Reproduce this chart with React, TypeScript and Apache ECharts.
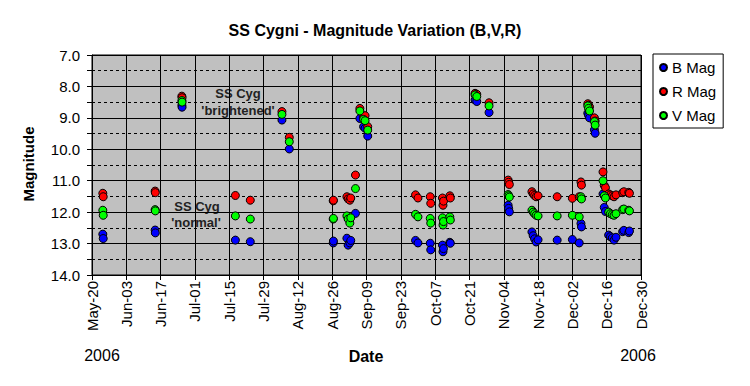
import React, { useEffect, useRef } from "react";
import * as echarts from "echarts";

const titleText = "SS Cygni - Magnitude Variation (B,V,R)";
const seriesNames = ["B Mag", "R Mag", "V Mag"];
const seriesColors = ["#0000ff", "#ff0000", "#00ff00"];
const startDate = "2006-05-20";
const endDate = "2006-12-30";
const tickDays = 14;
const yTicks = [7, 8, 9, 10, 11, 12, 13, 14];
const monthNames = ["Jan", "Feb", "Mar", "Apr", "May", "Jun", "Jul", "Aug", "Sep", "Oct", "Nov", "Dec"];

const obsTimes = [
  "2006-05-24T10", "2006-05-24T14", "2006-06-14T18", "2006-06-14T20", "2006-06-25T16", "2006-06-25T18",
  "2006-07-17T12", "2006-07-23T14", "2006-08-05T12", "2006-08-08T12", "2006-08-26T10", "2006-08-26T12",
  "2006-09-01T00", "2006-09-01T12", "2006-09-02T05", "2006-09-02T14", "2006-09-04T12", "2006-09-06T07",
  "2006-09-07T19", "2006-09-08T10", "2006-09-09T12", "2006-09-29T00", "2006-09-30T00", "2006-10-05T00",
  "2006-10-05T05", "2006-10-10T00", "2006-10-10T05", "2006-10-10T10", "2006-10-13T00", "2006-10-13T05",
  "2006-10-23T07", "2006-10-24T00", "2006-10-29T00", "2006-11-05T19", "2006-11-06T00", "2006-11-06T07",
  "2006-11-15T12", "2006-11-16T00", "2006-11-16T14", "2006-11-17T05", "2006-11-18T00", "2006-11-25T19",
  "2006-12-02T00", "2006-12-04T19", "2006-12-05T12", "2006-12-05T17", "2006-12-08T07", "2006-12-08T14",
  "2006-12-09T00", "2006-12-11T00", "2006-12-11T07", "2006-12-14T12", "2006-12-15T00", "2006-12-15T12",
  "2006-12-16T19", "2006-12-17T12", "2006-12-18T07", "2006-12-19T00", "2006-12-19T19", "2006-12-22T12",
  "2006-12-23T00", "2006-12-25T00", "2006-12-25T07",
];

const bMag = [
  12.70, 12.84, 12.57, 12.66, 8.60, 8.66,
  12.89, 12.94, 9.07, 9.99, 12.98, 12.92,
  12.83, 13.05, 12.98, 12.90, 12.04, 9.02,
  9.28, 9.33, 9.58, 12.90, 12.98, 12.99,
  13.20, 13.05, 13.26, 13.16, 12.96, 12.99,
  8.43, 8.48, 8.83, 11.78, 11.88, 11.99,
  12.63, 12.75, 12.85, 12.95, 12.88, 12.89,
  12.87, 12.98, 12.36, 12.47, 8.85, 8.92,
  9.00, 9.38, 9.49, 11.42, 11.85, 11.98,
  12.73, 12.78, 12.82, 12.89, 12.80, 12.62,
  12.58, 12.65, 12.60,
];

const rMag = [
  11.40, 11.51, 11.33, 11.38, 8.31, 8.36,
  11.47, 11.62, 8.80, 9.62, 11.64, 11.62,
  11.51, 11.58, 11.62, 11.55, 10.82, 8.70,
  8.98, 8.93, 9.28, 11.45, 11.55, 11.51,
  11.72, 11.55, 11.78, 11.65, 11.48, 11.55,
  8.22, 8.25, 8.52, 10.98, 11.05, 11.12,
  11.35, 11.42, 11.47, 11.51, 11.48, 11.51,
  11.56, 11.51, 11.04, 11.14, 8.55, 8.60,
  8.65, 9.00, 9.10, 10.72, 11.15, 11.22,
  11.42, 11.45, 11.48, 11.51, 11.45, 11.38,
  11.35, 11.37, 11.40,
];

const vMag = [
  11.94, 12.10, 11.92, 11.96, 8.45, 8.50,
  12.12, 12.22, 8.89, 9.76, 12.22, 12.20,
  12.12, 12.22, 12.35, 12.18, 11.25, 8.78,
  9.05, 9.09, 9.39, 12.07, 12.15, 12.20,
  12.35, 12.18, 12.41, 12.30, 12.15, 12.25,
  8.27, 8.32, 8.62, 11.44, 11.48, 11.52,
  11.94, 12.00, 12.05, 12.10, 12.12, 12.12,
  12.10, 12.15, 11.51, 11.58, 8.62, 8.70,
  8.78, 9.12, 9.23, 11.00, 11.48, 11.55,
  12.00, 12.05, 12.08, 12.10, 12.05, 11.92,
  11.90, 11.94, 11.96,
];

const DAY = 86400000;
const parseUTC = (s: string) => {
  const [d, h] = s.split("T");
  const [y, m, dd] = d.split("-").map(Number);
  return Date.UTC(y, m - 1, dd, h ? Number(h) : 0);
};
const t0 = parseUTC(startDate);
const dayOf = (s: string) => (parseUTC(s) - t0) / DAY;
const fmtTick = (v: number) => {
  const d = new Date(t0 + v * DAY);
  return monthNames[d.getUTCMonth()] + "-" + String(d.getUTCDate()).padStart(2, "0");
};

const FONT = "Arial, 'Liberation Sans', sans-serif";

export default function App() {
  const ref = useRef<HTMLDivElement>(null);
  useEffect(() => {
    if (!ref.current) return;
    const chart = echarts.init(ref.current, undefined, { renderer: "svg" });
    const mags = [bMag, rMag, vMag];
    const series = seriesNames.map((name, i) => ({
      name,
      type: "scatter",
      symbol: "circle",
      symbolSize: 8,
      itemStyle: { color: seriesColors[i], borderColor: "#000", borderWidth: 1, opacity: 1 },
      data: obsTimes.map((t, k) => [dayOf(t), mags[i][k]]),
    }));
    const txt = (text: string, x: number, y: number, size: number, bold: boolean, extra: any = {}) => ({
      type: "text",
      x,
      y,
      ...extra,
      style: {
        text,
        fill: extra.fill || "#000",
        font: `${bold ? "bold " : ""}${size}px ${FONT}`,
        textAlign: "center",
        textVerticalAlign: "middle",
        align: "center",
        verticalAlign: "middle",
      },
    });
    chart.setOption({
      animation: false,
      backgroundColor: "#ffffff",
      title: {
        text: titleText,
        left: "center",
        top: 17,
        textStyle: { fontFamily: FONT, fontSize: 16, fontWeight: "bold", color: "#000" },
      },
      grid: {
        left: 92,
        right: 109,
        top: 55,
        bottom: 111,
        show: true,
        backgroundColor: "#c0c0c0",
        borderColor: "#000",
        borderWidth: 1,
      },
      legend: {
        orient: "vertical",
        left: 653,
        top: 54,
        data: seriesNames,
        icon: "circle",
        itemWidth: 7,
        itemHeight: 7,
        itemGap: 9,
        padding: [6, 7, 5, 6],
        backgroundColor: "#fff",
        borderColor: "#000",
        borderWidth: 1,
        textStyle: { fontFamily: FONT, fontSize: 15, color: "#000" },
      },
      xAxis: {
        type: "value",
        min: 0,
        max: dayOf(endDate),
        interval: tickDays,
        axisLine: { show: true, lineStyle: { color: "#000", width: 1 } },
        axisTick: { show: true, inside: false, length: 5, lineStyle: { color: "#000" } },
        axisLabel: {
          rotate: 90,
          margin: 6,
          fontFamily: FONT,
          fontSize: 15,
          color: "#000",
          formatter: (v: number) => fmtTick(v),
        },
        splitLine: { show: true, lineStyle: { color: "#000", width: 1, type: "solid" } },
      },
      yAxis: {
        type: "value",
        inverse: true,
        min: yTicks[0],
        max: yTicks[yTicks.length - 1],
        interval: 1,
        axisLine: { show: true, lineStyle: { color: "#000", width: 1 } },
        axisTick: { show: true, inside: false, length: 5, lineStyle: { color: "#000" } },
        minorTick: { show: true, splitNumber: 2, length: 5, lineStyle: { color: "#000" } },
        axisLabel: {
          margin: 12,
          fontFamily: FONT,
          fontSize: 15,
          color: "#000",
          formatter: (v: number) => v.toFixed(1),
        },
        splitLine: { show: true, lineStyle: { color: "#000", width: 1, type: "solid" } },
        minorSplitLine: { show: true, lineStyle: { color: "#000", width: 1, type: [3, 3] } },
      },
      graphic: [
        txt("Magnitude", 28, 164, 15, true, { rotation: Math.PI / 2 }),
        txt("Date", 366, 356, 16, true),
        txt("2006", 102, 355, 16, false),
        txt("2006", 638, 355, 16, false),
        txt("SS Cyg", 238, 93, 13, true, { fill: "#222" }),
        txt("'brightened'", 238, 110, 13, true, { fill: "#222" }),
        txt("SS Cyg", 197, 206, 13, true, { fill: "#222" }),
        txt("'normal'", 196, 222, 13, true, { fill: "#222" }),
      ],
      series,
    });
    return () => chart.dispose();
  }, []);
  return (
    <div
      ref={ref}
      style={{ position: "absolute", left: 0, top: 0, width: 750, height: 386, background: "#fff" }}
    />
  );
}
